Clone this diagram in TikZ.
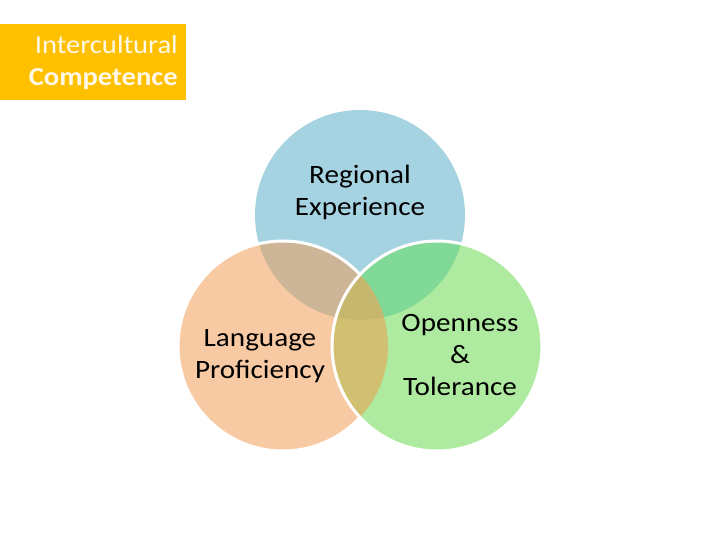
\documentclass[tikz,border=0pt]{standalone}
\usepackage{fontspec}
\setmainfont{Carlito}[FakeStretch=1.1]
\definecolor{cblue}{HTML}{A6D3E2}
\definecolor{corange}{HTML}{F8CAA4}
\definecolor{cgreen}{HTML}{AEEBA0}
\definecolor{cbo}{HTML}{CDB597}
\definecolor{cbg}{HTML}{80D996}
\definecolor{cog}{HTML}{D2C072}
\definecolor{cbog}{HTML}{C6B76F}
\definecolor{cgold}{HTML}{FFC000}
\definecolor{ctitle}{HTML}{FFF8E6}
\tikzset{
  lbl/.style={font=\fontsize{26.5}{32}\selectfont, align=center, text=black, inner sep=0pt, anchor=base},
  ttl/.style={font=\fontsize{26}{32}\selectfont, anchor=base east, text=ctitle, inner sep=0pt},
  rim/.style={draw=white, line width=3pt}
}
\begin{document}
\begin{tikzpicture}[x=1pt,y=-1pt]
\useasboundingbox (0,0) rectangle (720,540);
\fill[white] (0,0) rectangle (720,540);
% title box
\fill[cgold] (0,24) rectangle (186,100);
\node[ttl] (t1) at (178,54) {Intercultural};
\node[ttl, font=\fontsize{26}{32}\selectfont\bfseries] (t2) at (178,86) {Competence};
% circles
\fill[cblue] (360,215) circle[radius=105pt];
\fill[corange] (283,346) circle[radius=105pt];
\fill[cgreen] (437,346) circle[radius=105pt];
\begin{scope}
  \clip (360,215) circle[radius=105pt];
  \fill[cbo] (283,346) circle[radius=105pt];
  \fill[cbg] (437,346) circle[radius=105pt];
\end{scope}
\begin{scope}
  \clip (283,346) circle[radius=105pt];
  \fill[cog] (437,346) circle[radius=105pt];
  \clip (360,215) circle[radius=105pt];
  \fill[cbog] (437,346) circle[radius=105pt];
\end{scope}
\begin{scope}[even odd rule]
  \clip (0,0) rectangle (720,540) (437,346) circle[radius=105pt];
  \draw[rim] (283,346) circle[radius=105pt];
\end{scope}
\draw[rim] (437,346) circle[radius=105pt];
% labels
\node[lbl] (re) at (360,215) {Regional\\Experience};
\node[lbl] (lp) at (260,378) {Language\\Proficiency};
\node[lbl] (ot) at (460,395) {Openness\\\&\\Tolerance};
\end{tikzpicture}
\end{document}
